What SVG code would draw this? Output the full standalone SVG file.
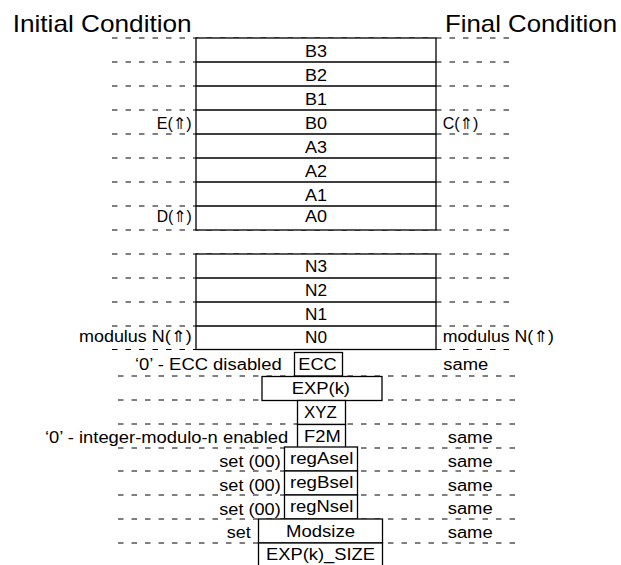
<svg xmlns="http://www.w3.org/2000/svg" width="621" height="565" viewBox="0 0 621 565">
<style>
.t{font-family:"Liberation Sans",Arial,"DejaVu Sans",sans-serif;font-size:16px;fill:#000}
.ttl{font-size:24px}
.box{fill:#fff;stroke:#000;stroke-width:1.3}
.ln{stroke:#000;stroke-width:1.3;fill:none}
.dash{stroke:#000;stroke-width:1;stroke-dasharray:5.5 8;fill:none}
</style>
<rect width="621" height="565" fill="#fff"/>
<g id="connectors">
<path class="dash" d="M112 38H512M112 62H512M112 86H512M112 110H512M112 134H512M112 158H512M112 182H512M112 206H512M112 230H512M112 254H512M112 278H512M112 302H512M112 326H512M112 349.5H512"/>
<path class="dash" d="M118 376H515M118 400H515M118 424H515M118 448H515M118 471H515M118 495H515M118 519H515M118 543H515"/>
</g>
<g id="titles">
<text class="t ttl" x="12.7" y="32" textLength="179" lengthAdjust="spacingAndGlyphs">Initial Condition</text>
<text class="t ttl" x="445" y="32" textLength="172" lengthAdjust="spacingAndGlyphs">Final Condition</text>
</g>
<g id="regAB">
<rect class="box" x="196" y="38" width="240" height="192"/>
<path class="ln" d="M196 62H436M196 86H436M196 110H436M196 134H436M196 158H436M196 182H436M196 206H436"/>
<g text-anchor="middle">
<text class="t" x="316" y="56.5" textLength="22" lengthAdjust="spacingAndGlyphs">B3</text>
<text class="t" x="316" y="80.5" textLength="22" lengthAdjust="spacingAndGlyphs">B2</text>
<text class="t" x="316" y="104.5" textLength="22" lengthAdjust="spacingAndGlyphs">B1</text>
<text class="t" x="316" y="128.5" textLength="22" lengthAdjust="spacingAndGlyphs">B0</text>
<text class="t" x="316" y="152.5" textLength="22" lengthAdjust="spacingAndGlyphs">A3</text>
<text class="t" x="316" y="176.5" textLength="22" lengthAdjust="spacingAndGlyphs">A2</text>
<text class="t" x="316" y="200.5" textLength="22" lengthAdjust="spacingAndGlyphs">A1</text>
<text class="t" x="316" y="222" textLength="22" lengthAdjust="spacingAndGlyphs">A0</text>
</g>
</g>
<g id="labelsAB">
<text class="t" x="156.7" y="129" textLength="35" lengthAdjust="spacingAndGlyphs">E(⇑)</text>
<text class="t" x="156.7" y="222" textLength="35" lengthAdjust="spacingAndGlyphs">D(⇑)</text>
<text class="t" x="442.7" y="128.5" textLength="35.6" lengthAdjust="spacingAndGlyphs">C(⇑)</text>
</g>
<g id="regN">
<rect class="box" x="196" y="254" width="240" height="95.5"/>
<path class="ln" d="M196 278H436M196 302H436M196 326H436"/>
<g text-anchor="middle">
<text class="t" x="316" y="271.5" textLength="22" lengthAdjust="spacingAndGlyphs">N3</text>
<text class="t" x="316" y="295.5" textLength="22" lengthAdjust="spacingAndGlyphs">N2</text>
<text class="t" x="316" y="319.5" textLength="22" lengthAdjust="spacingAndGlyphs">N1</text>
<text class="t" x="316" y="342.5" textLength="22" lengthAdjust="spacingAndGlyphs">N0</text>
</g>
</g>
<g id="labelsN">
<text class="t" x="79" y="342" textLength="112.7" lengthAdjust="spacingAndGlyphs">modulus N(⇑)</text>
<text class="t" x="442.7" y="342" textLength="111.3" lengthAdjust="spacingAndGlyphs">modulus N(⇑)</text>
</g>
<g id="ecc">
<rect class="box" x="294.5" y="352.5" width="48" height="23.5"/>
<text class="t" x="298.3" y="369.5" textLength="38.4" lengthAdjust="spacingAndGlyphs">ECC</text>
<text class="t" x="135" y="370" textLength="146.7" lengthAdjust="spacingAndGlyphs">‘0’ - ECC disabled</text>
<text class="t" x="443.3" y="370" textLength="45" lengthAdjust="spacingAndGlyphs">same</text>
</g>
<g id="expk">
<rect class="box" x="262" y="376.5" width="120" height="24"/>
<text class="t" x="291.7" y="393.5" textLength="58.3" lengthAdjust="spacingAndGlyphs">EXP(k)</text>
</g>
<g id="xyz">
<rect class="box" x="297.5" y="400.5" width="48" height="24"/>
<text class="t" x="304" y="418" textLength="32.7" lengthAdjust="spacingAndGlyphs">XYZ</text>
</g>
<g id="f2m">
<rect class="box" x="297.5" y="424.5" width="48" height="23.5"/>
<text class="t" x="304" y="442" textLength="36.7" lengthAdjust="spacingAndGlyphs">F2M</text>
<text class="t" x="45" y="443" textLength="243.3" lengthAdjust="spacingAndGlyphs">‘0’ - integer-modulo-n enabled</text>
<text class="t" x="447.7" y="443" textLength="45" lengthAdjust="spacingAndGlyphs">same</text>
</g>
<g id="regAsel">
<rect class="box" x="284.5" y="447" width="73" height="24"/>
<text class="t" x="290" y="463.5" textLength="63.3" lengthAdjust="spacingAndGlyphs">regAsel</text>
<text class="t" x="219.3" y="467" textLength="61.4" lengthAdjust="spacingAndGlyphs">set (00)</text>
<text class="t" x="447.7" y="467" textLength="45" lengthAdjust="spacingAndGlyphs">same</text>
</g>
<g id="regBsel">
<rect class="box" x="284.5" y="471" width="73" height="24"/>
<text class="t" x="290" y="487.5" textLength="63.3" lengthAdjust="spacingAndGlyphs">regBsel</text>
<text class="t" x="219.3" y="491" textLength="61.4" lengthAdjust="spacingAndGlyphs">set (00)</text>
<text class="t" x="447.7" y="490.5" textLength="45" lengthAdjust="spacingAndGlyphs">same</text>
</g>
<g id="regNsel">
<rect class="box" x="284.5" y="495" width="73" height="24"/>
<text class="t" x="290" y="511.5" textLength="63.3" lengthAdjust="spacingAndGlyphs">regNsel</text>
<text class="t" x="219.3" y="515" textLength="61.4" lengthAdjust="spacingAndGlyphs">set (00)</text>
<text class="t" x="447.7" y="514" textLength="45" lengthAdjust="spacingAndGlyphs">same</text>
</g>
<g id="modsize">
<rect class="box" x="258.5" y="519" width="124" height="24"/>
<text class="t" x="286" y="536.5" textLength="69" lengthAdjust="spacingAndGlyphs">Modsize</text>
<text class="t" x="226.7" y="538" textLength="24" lengthAdjust="spacingAndGlyphs">set</text>
<text class="t" x="447.7" y="537.5" textLength="45" lengthAdjust="spacingAndGlyphs">same</text>
</g>
<g id="expksize">
<rect class="box" x="258.5" y="543" width="124" height="30"/>
<text class="t" x="266" y="560" textLength="109" lengthAdjust="spacingAndGlyphs">EXP(k)_SIZE</text>
</g>
</svg>
